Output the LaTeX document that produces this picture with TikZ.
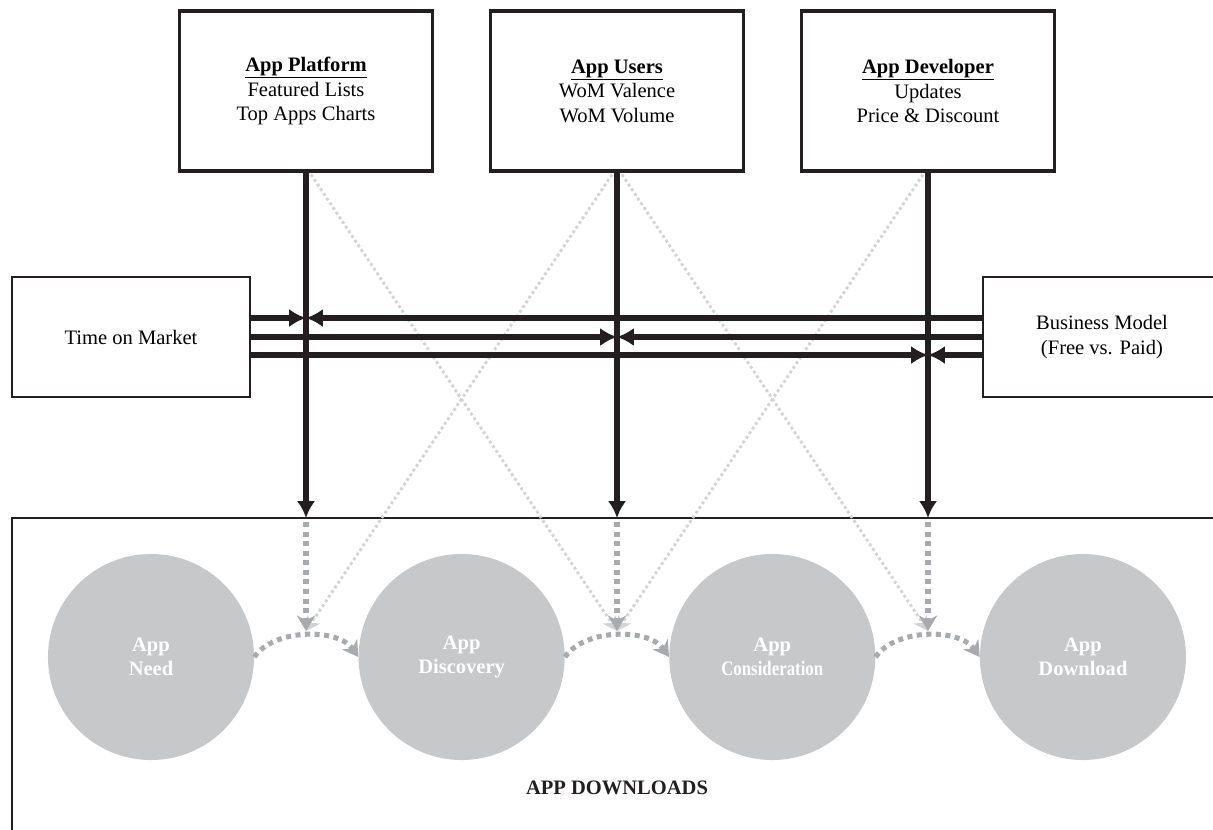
\documentclass[tikz,border=0pt]{standalone}
\usepackage{fontspec}
\usepackage{graphicx}
\setmainfont{Liberation Serif}
\usetikzlibrary{positioning,calc,arrows.meta}
\definecolor{inkblack}{RGB}{35,31,32}
\definecolor{stagegray}{RGB}{199,200,202}
\definecolor{flowgray}{RGB}{168,170,173}
\definecolor{crossgray}{RGB}{210,211,213}

\begin{document}
\begin{tikzpicture}[x=0.025cm,y=-0.025cm,font=\fontsize{14.6}{17.5}\selectfont]
\tikzset{actor/.style={draw=inkblack,line width=2.2pt,align=center,minimum width=6.325cm,minimum height=4cm,inner sep=0pt},
  side/.style={draw=inkblack,line width=2pt,align=center,minimum width=5.95cm,minimum height=3cm,inner sep=0pt},
  stage/.style={circle,fill=stagegray,text=white,font=\fontsize{14.6}{17.5}\selectfont\bfseries,align=center,minimum size=5.15cm,inner sep=0pt},
  effect/.style={draw=inkblack,line width=4pt,-{Latex[length=12pt,width=13pt]}},
  flow/.style={draw=flowgray,line width=3.6pt,dash pattern=on 3.6pt off 3.2pt,-{Stealth[length=11pt,width=13pt,inset=3.5pt]}},
  cross/.style={draw=crossgray,line width=2pt,dash pattern=on 2pt off 2pt,-{Stealth[length=10pt,width=11pt,inset=3pt]}}}

\useasboundingbox (0,0) rectangle (1213,830);
\clip (0,0) rectangle (1213,830);

% drivers
\node[actor] (plat) at (306,91) {\underline{\textbf{App Platform}}\\Featured Lists\\Top Apps Charts};
\node[actor] (users) at (617,91) {\underline{\textbf{App Users}}\\WoM Valence\\WoM Volume};
\node[actor] (dev) at (928,91) {\underline{\textbf{App Developer}}\\Updates\\Price \& Discount};
\node[side] (tom) at (131,337) {Time on Market};
\node[side] (biz) at (1102,337) {Business Model\\(Free vs. Paid)};

% funnel
\draw[inkblack,line width=2pt] (12,518) rectangle (1240,860);
\coordinate (frametop) at (0,518);
\coordinate (gate) at (0,522);
\coordinate (level) at (0,631);
\node[font=\fontsize{14.6}{17.5}\selectfont\bfseries,text=inkblack] (total) at (617,788) {APP DOWNLOADS};

\node[stage] (need) at (151,657) {App\\Need};
\node[stage,right=2.6cm of need] (disc) {App\\Discovery};
\node[stage,right=2.6cm of disc] (cons) {App\\\scalebox{0.82}[1]{Consideration}};
\node[stage,right=2.6cm of cons] (down) {App\\Download};

% cross effects
\draw[cross] ($(plat.south)+(5,2)$) -- (users.south |- level);
\draw[cross] ($(users.south)+(-5,2)$) -- (plat.south |- level);
\draw[cross] ($(users.south)+(5,2)$) -- (dev.south |- level);
\draw[cross] ($(dev.south)+(-5,2)$) -- (users.south |- level);

% direct effects
\foreach \src in {plat,users,dev}
  \draw[effect] (\src.south) -- (\src.south |- frametop);
\foreach \dy/\tgt in {-19/plat,0/users,18/dev}{
  \draw[effect] ($(tom.east)+(0,\dy)$) -- ($(\tgt.south |- tom.east)+(0,\dy)$);
  \draw[effect] ($(biz.west)+(0,\dy)$) -- ($(\tgt.south |- biz.west)+(0,\dy)$);
}

% stages
\foreach \src in {plat,users,dev}
  \draw[flow] (\src.south |- gate) -- (\src.south |- level);
\draw[flow] (need.east) .. controls +(20,-29) and +(-20,-29) .. (disc.west);
\draw[flow] (disc.east) .. controls +(20,-29) and +(-20,-29) .. (cons.west);
\draw[flow] (cons.east) .. controls +(20,-29) and +(-20,-29) .. (down.west);
\end{tikzpicture}
\end{document}
